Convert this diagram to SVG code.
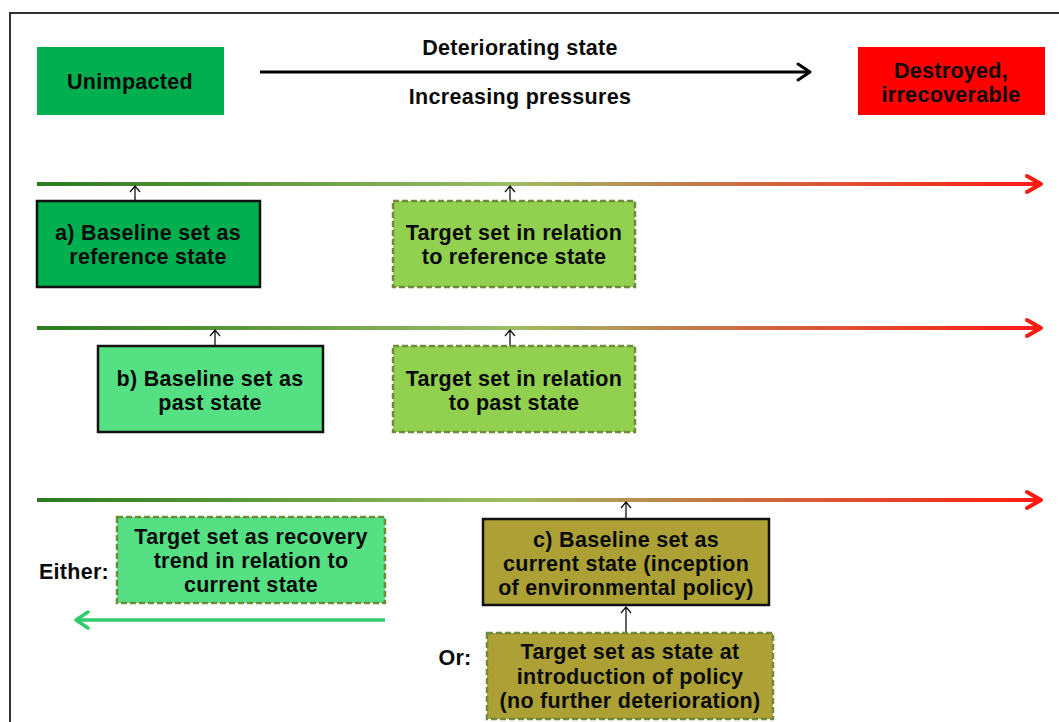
<svg xmlns="http://www.w3.org/2000/svg" width="1059" height="722" viewBox="0 0 1059 722">
<style>
.t{font-family:"Liberation Sans",Arial,sans-serif;font-weight:bold;font-size:21.5px;letter-spacing:0.3px;fill:#0a0a0a;text-anchor:middle}
.solid{stroke:#111;stroke-width:2.5}
.dash{stroke:#6F8A3A;stroke-width:2.5;stroke-dasharray:6 3}
.small{stroke:#111;stroke-width:1.3;fill:none}
</style>
<defs>
<linearGradient id="g" gradientUnits="userSpaceOnUse" x1="37" y1="0" x2="1040" y2="0">
<stop offset="0" stop-color="#2A7A20"/>
<stop offset="0.47" stop-color="#9CBD62"/>
<stop offset="0.66" stop-color="#C47A45"/>
<stop offset="1" stop-color="#FF1A14"/>
</linearGradient>
</defs>
<rect width="1059" height="722" fill="#fff"/>
<rect x="10" y="13" width="1100" height="760" fill="none" stroke="#333" stroke-width="2"/>
<g id="unimpacted"><rect x="37" y="47" width="187" height="68" fill="#00B050"/><text class="t" x="130" y="89">Unimpacted</text></g>
<g id="destroyed"><rect x="858" y="47" width="187" height="68" fill="#FF0000"/><text class="t" x="951" y="78">Destroyed,</text><text class="t" x="951" y="102">irrecoverable</text></g>
<g id="toplabels"><text class="t" x="520" y="55">Deteriorating state</text><text class="t" x="520" y="104">Increasing pressures</text></g>
<g id="connectors">
<line x1="260" y1="72" x2="810" y2="72" stroke="#000" stroke-width="3"/>
<polyline points="798,64 810,72 798,80" fill="none" stroke="#000" stroke-width="3" stroke-linecap="round" stroke-linejoin="round"/>
<line x1="37" y1="184" x2="1040" y2="184" stroke="url(#g)" stroke-width="4"/>
<polyline points="1027,176 1041,184 1027,192" fill="none" stroke="#FF1A14" stroke-width="4" stroke-linecap="round" stroke-linejoin="round"/>
<line x1="37" y1="328" x2="1040" y2="328" stroke="url(#g)" stroke-width="4"/>
<polyline points="1027,320 1041,328 1027,336" fill="none" stroke="#FF1A14" stroke-width="4" stroke-linecap="round" stroke-linejoin="round"/>
<line x1="37" y1="500" x2="1040" y2="500" stroke="url(#g)" stroke-width="4"/>
<polyline points="1027,492 1041,500 1027,508" fill="none" stroke="#FF1A14" stroke-width="4" stroke-linecap="round" stroke-linejoin="round"/>
<path class="small" d="M135 201V186M130 192L135 186L140 192"/>
<path class="small" d="M510 201V186M505 192L510 186L515 192"/>
<path class="small" d="M215 346V330M210 336L215 330L220 336"/>
<path class="small" d="M510 346V330M505 336L510 330L515 336"/>
<path class="small" d="M626 519V502M621 508L626 502L631 508"/>
<path class="small" d="M626 633V607M621 613L626 607L631 613"/>
<line x1="385" y1="620" x2="76" y2="620" stroke="#2ECC6A" stroke-width="3.5"/>
<polyline points="88,612 76,620 88,628" fill="none" stroke="#2ECC6A" stroke-width="3.5" stroke-linecap="round" stroke-linejoin="round"/>
</g>
<g id="baseline-a"><rect x="37" y="201" width="223" height="86" fill="#00B050" class="solid"/><text class="t" x="148" y="240">a) Baseline set as</text><text class="t" x="148" y="264">reference state</text></g>
<g id="target-a"><rect x="393" y="201" width="242" height="86" fill="#92D050" class="dash"/><text class="t" x="514" y="240">Target set in relation</text><text class="t" x="514" y="264">to reference state</text></g>
<g id="baseline-b"><rect x="98" y="346" width="225" height="86" fill="#55E084" class="solid"/><text class="t" x="210" y="386">b) Baseline set as</text><text class="t" x="210" y="410">past state</text></g>
<g id="target-b"><rect x="393" y="346" width="242" height="86" fill="#92D050" class="dash"/><text class="t" x="514" y="386">Target set in relation</text><text class="t" x="514" y="410">to past state</text></g>
<g id="either"><text class="t" x="74" y="579">Either:</text></g>
<g id="target-either"><rect x="117" y="517" width="268" height="86" fill="#55E084" class="dash"/><text class="t" x="251" y="544">Target set as recovery</text><text class="t" x="251" y="568">trend in relation to</text><text class="t" x="251" y="592">current state</text></g>
<g id="baseline-c"><rect x="483" y="519" width="286" height="86" fill="#ADA135" class="solid"/><text class="t" x="626" y="547">c) Baseline set as</text><text class="t" x="626" y="571">current state (inception</text><text class="t" x="626" y="595">of environmental policy)</text></g>
<g id="or"><text class="t" x="455" y="665">Or:</text></g>
<g id="target-or"><rect x="487" y="633" width="286" height="86" fill="#ADA135" class="dash"/><text class="t" x="630" y="659">Target set as state at</text><text class="t" x="630" y="684">introduction of policy</text><text class="t" x="630" y="708">(no further deterioration)</text></g>
</svg>
